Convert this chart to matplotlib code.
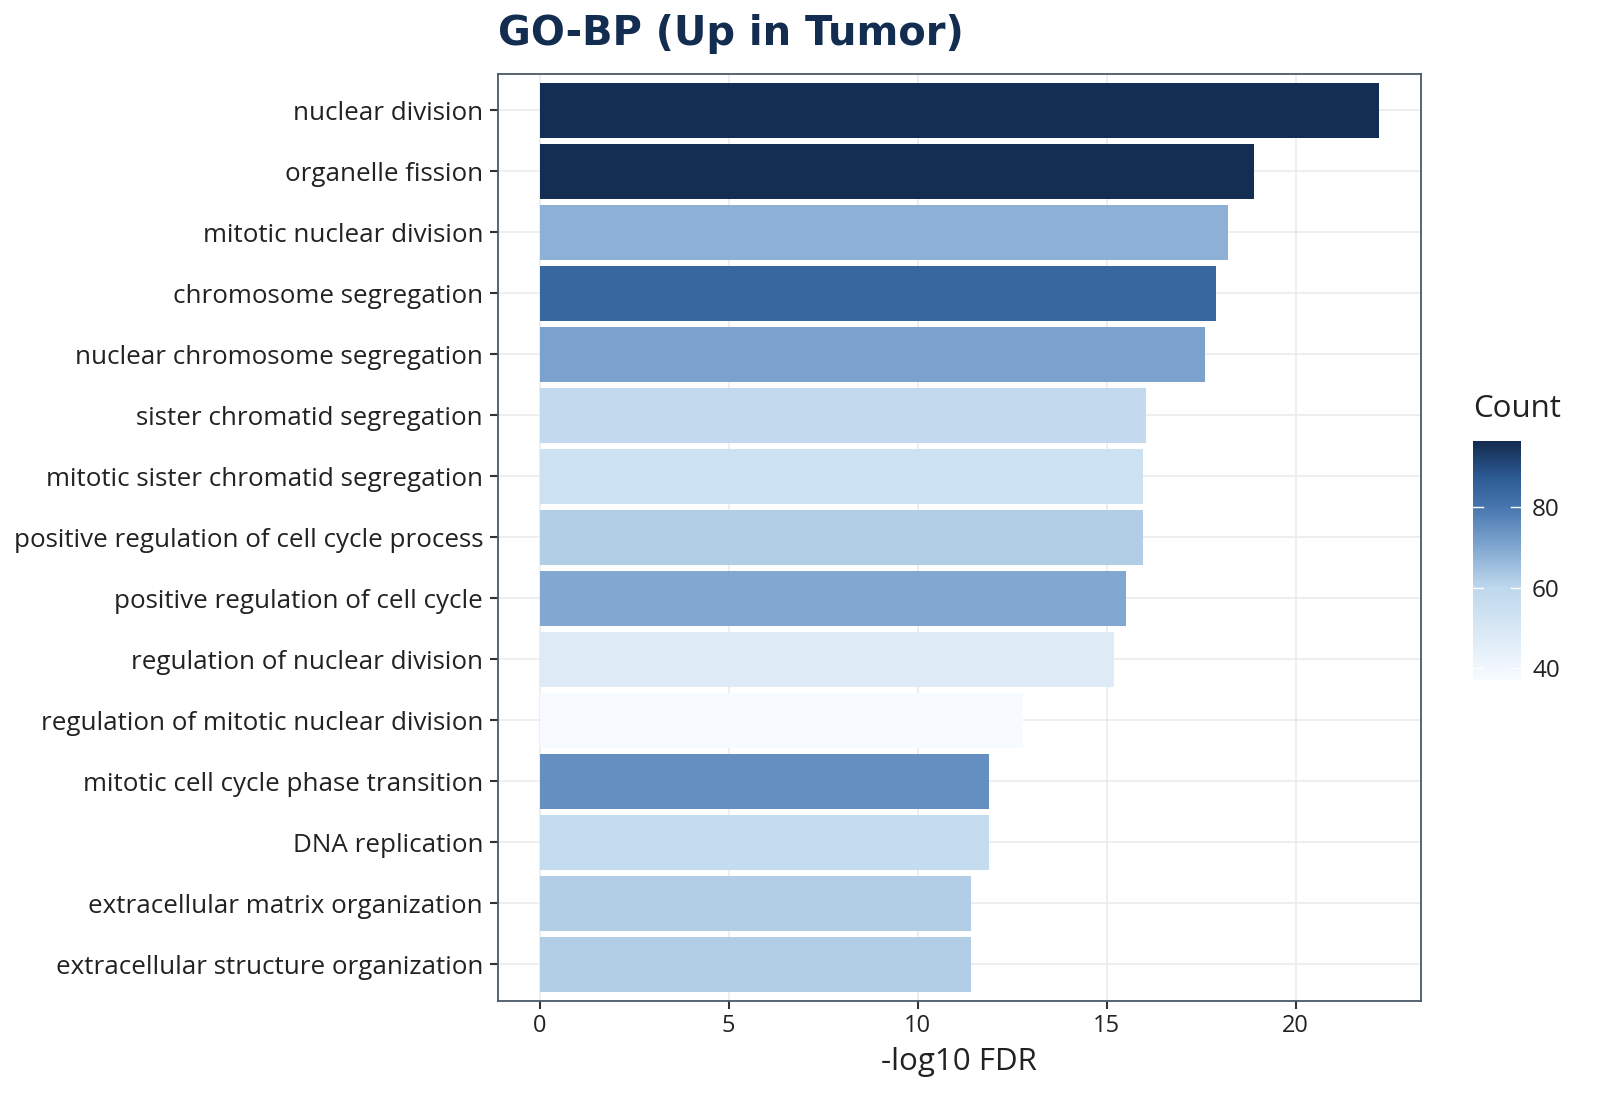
import numpy as np
import matplotlib
matplotlib.use("Agg")
import matplotlib.pyplot as plt
from matplotlib.colors import LinearSegmentedColormap, Normalize

terms = [
    "nuclear division",
    "organelle fission",
    "mitotic nuclear division",
    "chromosome segregation",
    "nuclear chromosome segregation",
    "sister chromatid segregation",
    "mitotic sister chromatid segregation",
    "positive regulation of cell cycle process",
    "positive regulation of cell cycle",
    "regulation of nuclear division",
    "regulation of mitotic nuclear division",
    "mitotic cell cycle phase transition",
    "DNA replication",
    "extracellular matrix organization",
    "extracellular structure organization",
]
neg_log10_fdr = [22.2, 18.9, 18.2, 17.9, 17.6, 16.05, 15.95, 15.95, 15.5, 15.2,
                 12.8, 11.9, 11.9, 11.4, 11.4]
counts = [96, 96, 68, 84, 71, 58, 54, 62, 70, 47, 37, 75, 57, 62, 62]

plt.rcParams['font.family'] = ['Open Sans', 'DejaVu Sans']

cmap = LinearSegmentedColormap.from_list(
    "bluegrad",
    [(0.0, "#f7fbff"), (0.39, "#bdd7ec"), (0.56, "#7fa6d0"),
     (0.73, "#4574ad"), (0.85, "#2c5a93"), (1.0, "#132b4f")])
norm = Normalize(vmin=37, vmax=96.5)

fig = plt.figure(figsize=(16, 11), dpi=100)
ax = fig.add_axes([0.311, 0.09, 0.577, 0.843])

ypos = np.arange(len(terms))[::-1] + 1
ax.barh(ypos, neg_log10_fdr, height=0.9, color=cmap(norm(counts)), zorder=2)

ax.set_yticks(ypos)
ax.set_yticklabels(terms, fontsize=18.7, color="#222222")
ax.set_xticks([0, 5, 10, 15, 20])
ax.tick_params(axis="x", labelsize=17, colors="#222222")
ax.tick_params(length=6, width=1.5, color="#333333")
ax.tick_params(axis="y", pad=4.5)
ax.set_ylim(0.4, len(terms) + 0.6)
ax.set_xlim(-1.11, 23.31)
ax.grid(True, color="#ebebeb", linewidth=1.2, zorder=0)
ax.set_axisbelow(True)
for s in ax.spines.values():
    s.set_color("#4a5968")
    s.set_linewidth(1.3)

ax.set_xlabel("-log10 FDR", fontsize=22.5, color="#222222", labelpad=6)
fig.text(0.311, 0.969, "GO-BP (Up in Tumor)", fontsize=28.8, fontweight="bold",
         color="#132d50", family="DejaVu Sans", ha="left", va="center")

cax = fig.add_axes([0.9206, 0.382, 0.03, 0.217])
sm = matplotlib.cm.ScalarMappable(norm=norm, cmap=cmap)
cb = fig.colorbar(sm, cax=cax)
cb.outline.set_visible(False)
cb.set_ticks([40, 60, 80])
cb.ax.tick_params(length=0, labelsize=17.5, colors="#222222", pad=8)
for v in [40, 60, 80]:
    cax.plot([0, 0.2], [v, v], color="white", lw=1, transform=cax.get_yaxis_transform())
    cax.plot([0.8, 1.0], [v, v], color="white", lw=1, transform=cax.get_yaxis_transform())
fig.text(0.9206, 0.628, "Count", fontsize=22.5, color="#222222", ha="left", va="center")

fig.savefig("out.png", dpi=100)
